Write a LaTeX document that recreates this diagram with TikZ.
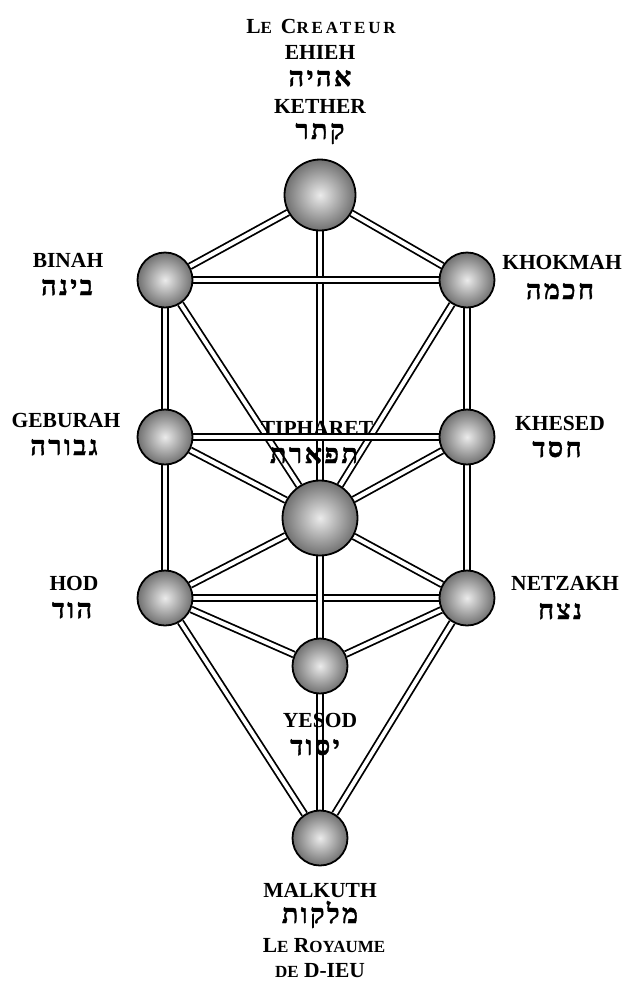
\documentclass[tikz,border=0pt]{standalone}
\usepackage{fontspec}
\setmainfont{Liberation Serif}
\newfontfamily\hebfont[Script=Hebrew, LetterSpace=9, FakeBold=1.2]{Liberation Serif}
\usetikzlibrary{backgrounds}
\definecolor{spherelight}{HTML}{EBEBEB}
\definecolor{sphereedge}{HTML}{707070}
\newcommand{\smallcap}[1]{{\fontsize{17}{17}\selectfont #1}}
\tikzset{
  sphere/.style={circle, draw=black, line width=1.8pt, inner sep=0pt,
                 inner color=spherelight, outer color=sphereedge},
  bigsphere/.style={sphere, minimum size=71pt},
  smallsphere/.style={sphere, minimum size=55pt},
  channel/.style={draw=black, double=white, line width=1.8pt, double distance=4pt},
  latinlbl/.style={font=\fontsize{21.5}{21.5}\selectfont\bfseries, anchor=base, inner sep=0pt},
  heblbl/.style={font=\fontsize{27}{27}\selectfont\hebfont\bfseries, anchor=base, inner sep=0pt},
}

\begin{document}
\begin{tikzpicture}[x=1pt, y=-1pt]
    \useasboundingbox (0,0) rectangle (626,989);
    \node[bigsphere] (kether) at (320, 195) {};
    \node[smallsphere] (binah) at (165, 280) {};
    \node[smallsphere] (khokmah) at (467, 280) {};
    \node[smallsphere] (geburah) at (165, 437) {};
    \node[smallsphere] (khesed) at (467, 437) {};
    \node[bigsphere, minimum size=75pt] (tiphareth) at (320, 518) {};
    \node[smallsphere] (hod) at (165, 598) {};
    \node[smallsphere] (netzakh) at (467, 598) {};
    \node[smallsphere] (yesod) at (320, 666) {};
    \node[smallsphere] (malkuth) at (320, 838) {};
    \begin{scope}[on background layer]
    \draw[channel] (kether) -- (binah);
    \draw[channel] (kether) -- (khokmah);
    \draw[channel] (kether) -- (tiphareth);
    \draw[channel] (binah) -- (khokmah);
    \draw[channel] (binah) -- (geburah);
    \draw[channel] (khokmah) -- (khesed);
    \draw[channel] (binah) -- (tiphareth);
    \draw[channel] (khokmah) -- (tiphareth);
    \draw[channel] (geburah) -- (khesed);
    \draw[channel] (geburah) -- (tiphareth);
    \draw[channel] (khesed) -- (tiphareth);
    \draw[channel] (geburah) -- (hod);
    \draw[channel] (khesed) -- (netzakh);
    \draw[channel] (tiphareth) -- (hod);
    \draw[channel] (tiphareth) -- (netzakh);
    \draw[channel] (hod) -- (netzakh);
    \draw[channel] (tiphareth) -- (yesod);
    \draw[channel] (hod) -- (yesod);
    \draw[channel] (netzakh) -- (yesod);
    \draw[channel] (hod) -- (malkuth);
    \draw[channel] (netzakh) -- (malkuth);
    \draw[channel] (yesod) -- (malkuth);
    \end{scope}
    \node[latinlbl] (createur) at (321, 33) {\addfontfeatures{LetterSpace=17}L\smallcap{E} C\smallcap{REATEUR}};
    \node[latinlbl] (ehieh) at (320, 59) {EHIEH};
    \node[heblbl] (ehiehheb) at (320, 86) {אהיה};
    \node[latinlbl] (kethertxt) at (320, 113) {KETHER};
    \node[heblbl] (ketherheb) at (320, 139) {קתר};
    \node[latinlbl] (binahtxt) at (68, 267) {BINAH};
    \node[heblbl] (binahheb) at (67, 295) {בינה};
    \node[latinlbl] (khokmahtxt) at (562, 269) {KHOKMAH};
    \node[heblbl] (khokmahheb) at (560, 299) {חכמה};
    \node[latinlbl] (geburahtxt) at (66, 427) {GEBURAH};
    \node[heblbl] (geburahheb) at (64, 455) {גבורה};
    \node[latinlbl] (khesedtxt) at (560, 430) {KHESED};
    \node[heblbl] (khesedheb) at (557, 457) {חסד};
    \node[latinlbl] (tipharettxt) at (317, 435) {TIPHARET};
    \node[heblbl] (tipharetheb) at (314, 463) {תפארת};
    \node[latinlbl] (hodtxt) at (74, 590) {HOD};
    \node[heblbl] (hodheb) at (72, 618) {הוד};
    \node[latinlbl] (netzakhtxt) at (565, 590) {NETZAKH};
    \node[heblbl] (netzakhheb) at (560, 619) {נצח};
    \node[latinlbl] (yesodtxt) at (320, 727) {YESOD};
    \node[heblbl] (yesodheb) at (315, 755) {יסוד};
    \node[latinlbl] (malkuthtxt) at (320, 897) {MALKUTH};
    \node[heblbl] (malkuthheb) at (320, 923) {מלקות};
    \node[latinlbl] (royaume) at (324, 952) {L\smallcap{E} R\smallcap{OYAUME}};
    \node[latinlbl] (dieu) at (320, 977) {\smallcap{DE} D-IEU};
  \end{tikzpicture}
\end{document}
